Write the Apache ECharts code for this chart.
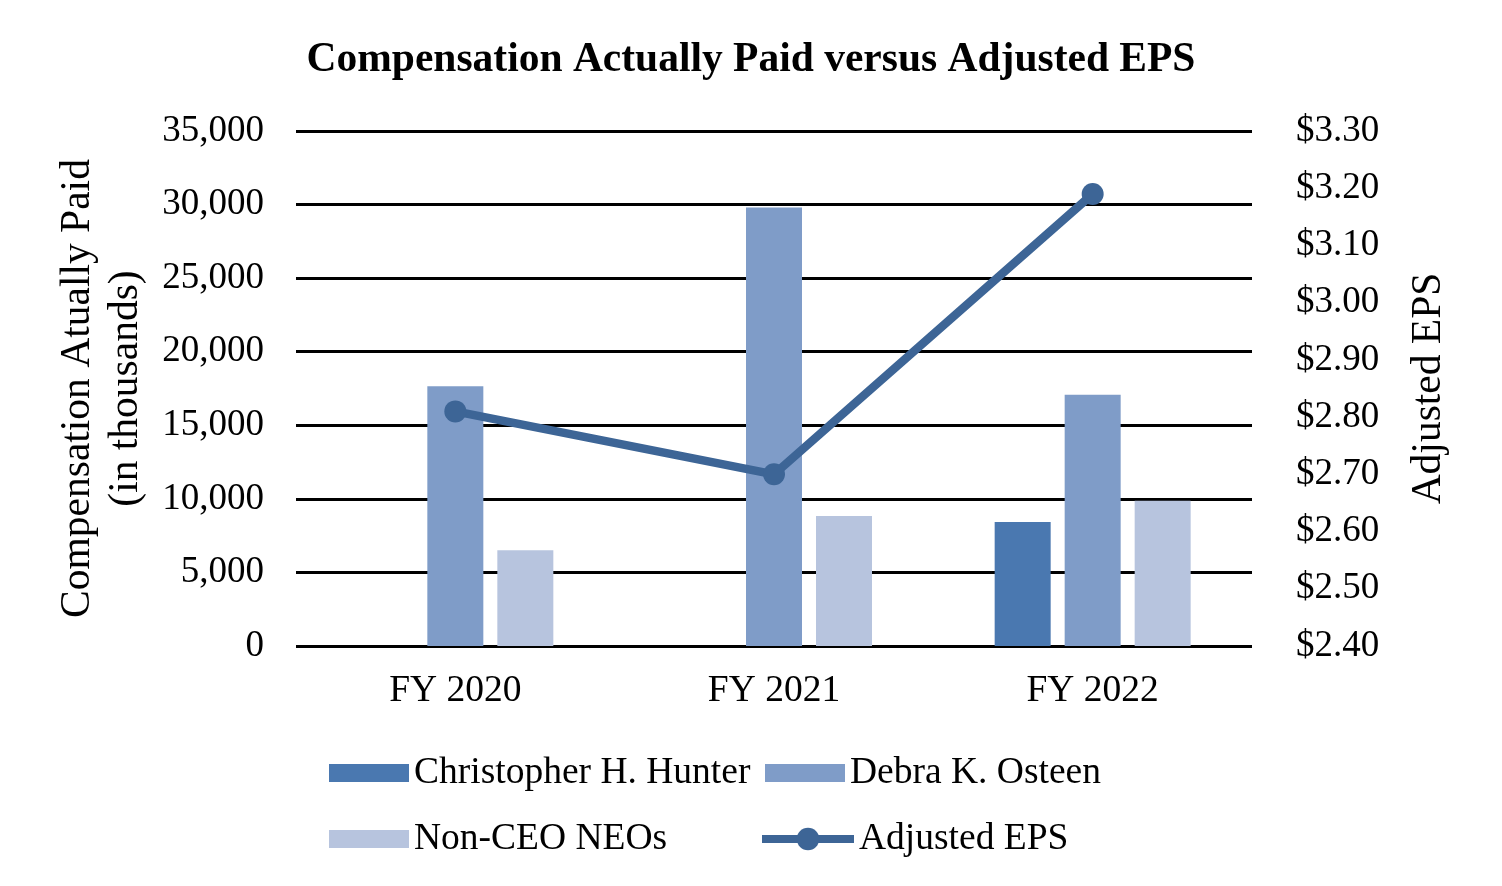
<!DOCTYPE html>
<html>
<head>
<meta charset="utf-8">
<script src="https://cdn.jsdelivr.net/npm/echarts@6/dist/echarts.min.js"></script>
<style>html,body{margin:0;padding:0;background:#fff}#c{width:1502px;height:886px}</style>
</head>
<body>
<div id="c"></div>
<script>
const categories = ['FY 2020', 'FY 2021', 'FY 2022'];
const hunter = [null, null, 8430];
const osteen = [17650, 29800, 17070];
const nonCeo = [6500, 8840, 9870];
const adjEps = [2.81, 2.70, 3.19];
const leftTicks = [0, 35000, 5000];
const rightTicks = [2.40, 3.30, 0.10];

const FONT = '"Liberation Serif", "Times New Roman", serif';
const chart = echarts.init(document.getElementById('c'));
const legendBase = {
  itemWidth: 80, itemHeight: 18, itemGap: 8, icon: 'rect',
  textStyle: { fontFamily: FONT, fontSize: 37.5, color: '#000' }
};
chart.setOption({
  animation: false,
  title: {
    text: 'Compensation Actually Paid versus Adjusted EPS',
    left: 'center', top: 34,
    textStyle: { fontFamily: FONT, fontSize: 41.5, fontWeight: 'bold', color: '#000' }
  },
  legend: [
    Object.assign({}, legendBase, { data: ['Christopher H. Hunter'], left: 324, top: 749 }),
    Object.assign({}, legendBase, { data: ['Debra K. Osteen'], left: 760, top: 749 }),
    Object.assign({}, legendBase, { data: ['Non-CEO NEOs'], left: 324, top: 815 }),
    Object.assign({}, legendBase, { data: ['Adjusted EPS'], left: 753, top: 815, itemWidth: 92, itemHeight: 28,
      icon: null, lineStyle: { width: 8, color: '#3d6596' }, itemStyle: { color: '#3d6596' } })
  ],
  grid: { left: 296, right: 250, top: 131, bottom: 240 },
  xAxis: {
    type: 'category', data: categories,
    axisLine: { show: false }, axisTick: { show: false },
    axisLabel: { fontFamily: FONT, fontSize: 37.5, color: '#000', margin: 26 }
  },
  yAxis: [
    {
      type: 'value', min: leftTicks[0], max: leftTicks[1], interval: leftTicks[2],
      name: 'Compensation Atually Paid\n(in thousands)', nameLocation: 'middle', nameGap: 146,
      nameTextStyle: { fontFamily: FONT, fontSize: 41.5, color: '#000', lineHeight: 48 },
      axisLine: { show: false }, axisTick: { show: false },
      axisLabel: { fontFamily: FONT, fontSize: 37, color: '#000', margin: 32,
        formatter: v => v.toLocaleString('en-US') },
      splitLine: { lineStyle: { color: '#000', width: 3 } }
    },
    {
      type: 'value', min: rightTicks[0], max: rightTicks[1], interval: rightTicks[2],
      name: 'Adjusted EPS', nameLocation: 'middle', nameGap: 156, nameRotate: 90,
      nameTextStyle: { fontFamily: FONT, fontSize: 41.5, color: '#000' },
      axisLine: { show: false }, axisTick: { show: false },
      axisLabel: { fontFamily: FONT, fontSize: 37, color: '#000', margin: 44,
        formatter: v => '$' + v.toFixed(2) },
      splitLine: { show: false }
    }
  ],
  series: [
    { name: 'Christopher H. Hunter', type: 'bar', data: hunter, barWidth: 56, barGap: '25%',
      itemStyle: { color: '#4a78b0' } },
    { name: 'Debra K. Osteen', type: 'bar', data: osteen, barWidth: 56, barGap: '25%',
      itemStyle: { color: '#7f9cc8' } },
    { name: 'Non-CEO NEOs', type: 'bar', data: nonCeo, barWidth: 56, barGap: '25%',
      itemStyle: { color: '#b7c4de' } },
    { name: 'Adjusted EPS', type: 'line', yAxisIndex: 1, data: adjEps,
      symbol: 'circle', symbolSize: 22, lineStyle: { color: '#3d6596', width: 8.5 },
      itemStyle: { color: '#3d6596' }, z: 5 }
  ]
});
</script>
</body>
</html>
